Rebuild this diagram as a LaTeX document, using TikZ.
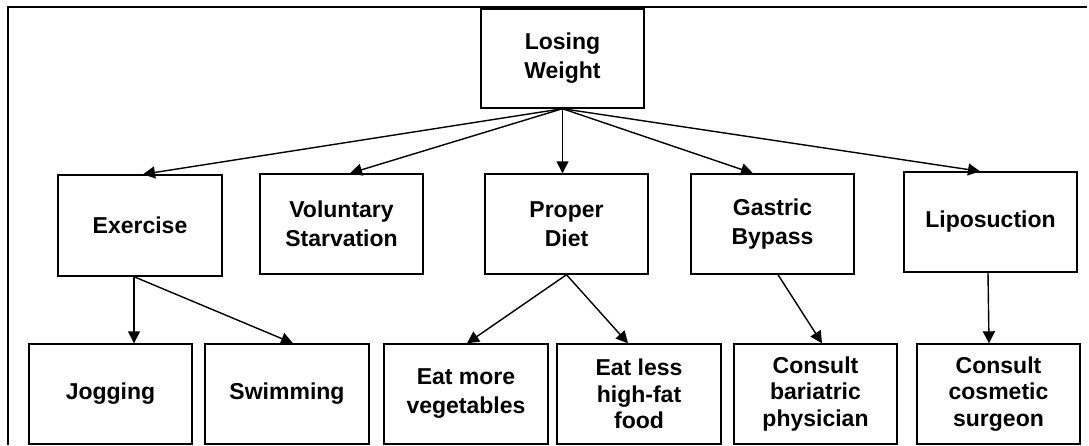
\documentclass[tikz,border=0pt]{standalone}
\usepackage{fontspec}
\setmainfont{Liberation Sans}
\usetikzlibrary{arrows.meta}
\begin{document}
\begin{tikzpicture}[x=1pt,y=-1pt,
  box/.style={draw=black, line width=1.4pt, rectangle, inner sep=0pt,
    minimum width=163pt, minimum height=100pt, align=center,
    font=\bfseries\fontsize{23}{29}\selectfont},
  tight/.style={font=\bfseries\fontsize{23}{26.5}\selectfont},
  link/.style={line width=1.4pt, -{Triangle[width=12pt,length=12pt]}}]
\useasboundingbox (0,0) rectangle (1089,445);
% outer frame: top and left edges only
\draw[line width=1.4pt] (7,7) -- (1087,7);
\draw[line width=2pt] (8,6.3) -- (8,445);

% root
\node[box, minimum height=99pt] (lw) at (562.5,58.5) {Losing\\Weight};

% second level
\node[box, minimum width=164pt, minimum height=101pt] (ex) at (140,225.5) {Exercise};
\node[box] (vs) at (341.5,224) {Voluntary\\Starvation};
\node[box] (pd) at (566.5,224) {Proper\\Diet};
\node[box] (gb) at (772.5,224) {Gastric\\Bypass};
\node[box, minimum width=173pt] (li) at (990.5,222) {Liposuction};

% third level
\node[box] (jo) at (110.5,394) {Jogging};
\node[box, minimum width=164pt] (sw) at (287,394) {Swimming};
\node[box, minimum width=164pt] (em) at (466,394) {Eat more\\vegetables};
\node[box, tight, minimum width=164pt] (el) at (639,394) {Eat less\\high-fat\\food};
\node[box, tight] (cb) at (815.5,394) {Consult\\bariatric\\physician};
\node[box, tight] (cc) at (998.5,394) {Consult\\cosmetic\\surgeon};

% root to second level
\draw[link] (lw.south) -- ([xshift=3pt]ex.north);
\draw[link] (lw.south) -- ([xshift=8.5pt]vs.north);
\draw[link] (lw.south) -- (lw.south |- pd.north);
\draw[link] (lw.south) -- ([xshift=-19.5pt]gb.north);
\draw[link] (lw.south) -- ([xshift=-10.5pt]li.north);

% second level to third level
\draw[link] ([xshift=-6pt]ex.south) -- ([xshift=23.5pt]jo.north);
\draw[link] ([xshift=-6pt]ex.south) -- ([xshift=6pt]sw.north);
\draw[link] (pd.south) -- ([xshift=1pt]em.north);
\draw[link] (pd.south) -- ([xshift=-11pt]el.north);
\draw[link] ([xshift=5.5pt]gb.south) -- ([xshift=6.5pt]cb.north);
\draw[link] ([xshift=-2.5pt]li.south) -- ([xshift=-9.5pt]cc.north);
\end{tikzpicture}
\end{document}
